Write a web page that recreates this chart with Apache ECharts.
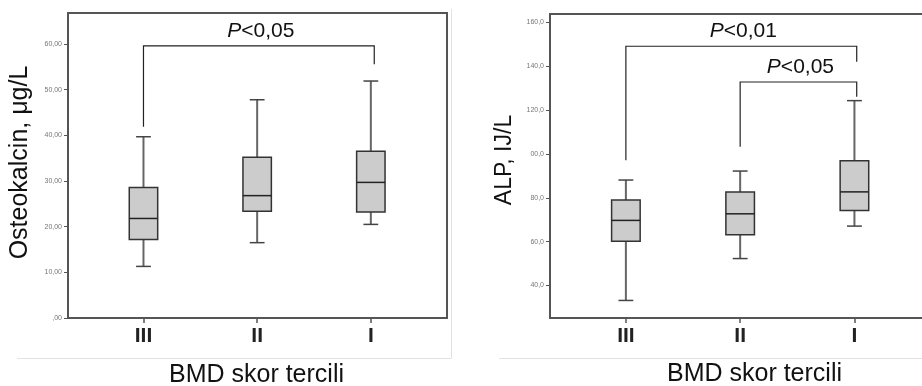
<!DOCTYPE html>
<html>
<head>
<meta charset="utf-8">
<script src="https://cdn.jsdelivr.net/npm/echarts@6/dist/echarts.min.js"></script>
<style>
html,body{margin:0;padding:0;background:#fff;}
#c{width:922px;height:386px;}
</style>
</head>
<body>
<div id="c"></div>
<script>
// ---- data ----
const categories = ['III', 'II', 'I'];
const categoryPos = [1, 2, 3];

const osteoLow  = [11.3, 16.5, 20.5];
const osteoQ1   = [17.2, 23.4, 23.2];
const osteoMed  = [21.8, 26.8, 29.7];
const osteoQ3   = [28.6, 35.2, 36.5];
const osteoHigh = [39.7, 47.8, 51.9];

const alpLow  = [33.2, 52.3, 67.1];
const alpQ1   = [60.2, 63.1, 74.2];
const alpMed  = [69.7, 72.7, 82.7];
const alpQ3   = [79.0, 82.6, 96.9];
const alpHigh = [88.1, 92.2, 124.3];

const osteoTickValues = [0, 10, 20, 30, 40, 50, 60];
const osteoTickLabels = [',00', '10,00', '20,00', '30,00', '40,00', '50,00', '60,00'];
const alpTickValues = [40, 60, 80, 100, 120, 140, 160];
const alpTickLabels = ['40,0', '60,0', '80,0', '00,0', '120,0', '140,0', '160,0'];

// brackets: [fromX, toX, topY, leftEndY, rightEndY]
const osteoBrackets = [[1, 3.03, 59.6, 41.9, 55.6]];
const osteoBracketText = ['<0,05'];
const alpBrackets = [[1, 3.02, 149.1, 97.1, 142.0], [2, 3.02, 132.8, 103.3, 126.1]];
const alpBracketText = ['<0,01', '<0,05'];

// ---- build ----
function boxData(lo, q1, md, q3, hi) {
  return categoryPos.map((x, i) => [x, lo[i], q1[i], md[i], q3[i], hi[i]]);
}
function bracketData(br, txt) {
  return br.map((b, i) => b.concat([txt[i]]));
}

function renderBox(params, api) {
  const x = api.value(0);
  const pLo = api.coord([x, api.value(1)]);
  const pQ1 = api.coord([x, api.value(2)]);
  const pMd = api.coord([x, api.value(3)]);
  const pQ3 = api.coord([x, api.value(4)]);
  const pHi = api.coord([x, api.value(5)]);
  const w = api.size([0.25, 0])[0];
  const cw = api.size([0.13, 0])[0];
  const cx = pMd[0];
  return {
    type: 'group',
    children: [
      {type: 'line', shape: {x1: cx, y1: pHi[1], x2: cx, y2: pQ3[1]}, style: {stroke: '#666', lineWidth: 2}},
      {type: 'line', shape: {x1: cx, y1: pQ1[1], x2: cx, y2: pLo[1]}, style: {stroke: '#666', lineWidth: 2}},
      {type: 'line', shape: {x1: cx - cw / 2, y1: pHi[1], x2: cx + cw / 2, y2: pHi[1]}, style: {stroke: '#444', lineWidth: 1.5}},
      {type: 'line', shape: {x1: cx - cw / 2, y1: pLo[1], x2: cx + cw / 2, y2: pLo[1]}, style: {stroke: '#444', lineWidth: 1.5}},
      {type: 'rect', shape: {x: cx - w / 2, y: pQ3[1], width: w, height: pQ1[1] - pQ3[1]}, style: {fill: '#cccccc', stroke: '#333', lineWidth: 1.5}},
      {type: 'line', shape: {x1: cx - w / 2, y1: pMd[1], x2: cx + w / 2, y2: pMd[1]}, style: {stroke: '#222', lineWidth: 1.5}}
    ]
  };
}

function renderBracket(params, api) {
  const x1 = api.value(0), x2 = api.value(1), yt = api.value(2), yl = api.value(3), yr = api.value(4);
  const a = api.coord([x1, yl]);
  const b = api.coord([x1, yt]);
  const c = api.coord([x2, yt]);
  const d = api.coord([x2, yr]);
  const txt = api.value(5);
  return {
    type: 'group',
    children: [
      {type: 'polyline', shape: {points: [a, b, c, d]}, style: {stroke: '#222', lineWidth: 1.2, fill: null}},
      {type: 'text', x: (b[0] + c[0]) / 2 + 2, y: b[1] - 15,
        style: {
          text: '{i|P}{n|' + txt + '}',
          align: 'center', verticalAlign: 'middle',
          rich: {
            i: {fontFamily: 'Liberation Sans', fontSize: 21, fontStyle: 'italic', fill: '#111'},
            n: {fontFamily: 'Liberation Sans', fontSize: 21, fill: '#111'}
          }
        }}
    ]
  };
}

const yLabelStyle = {fontFamily: 'Liberation Sans', fontSize: 7, color: '#777', margin: 6};

const option = {
  animation: false,
  backgroundColor: '#fff',
  grid: [
    {left: 68, top: 13, width: 379, height: 305, show: true, borderColor: '#555', borderWidth: 2, backgroundColor: 'transparent', outerBoundsMode: 'none', containLabel: false},
    {left: 550, top: 14, width: 381, height: 304, show: true, borderColor: '#555', borderWidth: 2, backgroundColor: 'transparent', outerBoundsMode: 'none', containLabel: false}
  ],
  xAxis: [0, 1].map(g => ({
    type: 'value', gridIndex: g, min: 0.336, max: 3.67,
    splitLine: {show: false},
    axisLine: {show: false},
    axisTick: {show: true, length: 5, lineStyle: {color: '#555', width: 1.5}, customValues: categoryPos},
    axisLabel: {
      customValues: categoryPos,
      formatter: v => categories[categoryPos.indexOf(Math.round(v))] || '',
      fontFamily: '"Liberation Sans Narrow", "Liberation Sans"', fontWeight: 'bold', fontSize: 21, color: '#222', margin: 8
    }
  })),
  yAxis: [
    {
      type: 'value', gridIndex: 0, min: 0, max: 66.8,
      splitLine: {show: false}, axisLine: {show: false},
      axisTick: {show: true, length: 4, lineStyle: {color: '#555'}, customValues: osteoTickValues},
      axisLabel: Object.assign({customValues: osteoTickValues,
        formatter: v => osteoTickLabels[osteoTickValues.indexOf(Math.round(v))] || ''}, yLabelStyle)
    },
    {
      type: 'value', gridIndex: 1, min: 25.2, max: 163.8,
      splitLine: {show: false}, axisLine: {show: false},
      axisTick: {show: true, length: 4, lineStyle: {color: '#555'}, customValues: alpTickValues},
      axisLabel: Object.assign({customValues: alpTickValues,
        formatter: v => alpTickLabels[alpTickValues.indexOf(Math.round(v))] || ''}, yLabelStyle)
    }
  ],
  series: [
    {type: 'custom', xAxisIndex: 0, yAxisIndex: 0, renderItem: renderBox,
      encode: {x: 0, y: [1, 2, 3, 4, 5]}, data: boxData(osteoLow, osteoQ1, osteoMed, osteoQ3, osteoHigh), clip: false},
    {type: 'custom', xAxisIndex: 1, yAxisIndex: 1, renderItem: renderBox,
      encode: {x: 0, y: [1, 2, 3, 4, 5]}, data: boxData(alpLow, alpQ1, alpMed, alpQ3, alpHigh), clip: false},
    {type: 'custom', xAxisIndex: 0, yAxisIndex: 0, renderItem: renderBracket,
      encode: {x: [0, 1], y: [2, 3, 4]}, data: bracketData(osteoBrackets, osteoBracketText), clip: false},
    {type: 'custom', xAxisIndex: 1, yAxisIndex: 1, renderItem: renderBracket,
      encode: {x: [0, 1], y: [2, 3, 4]}, data: bracketData(alpBrackets, alpBracketText), clip: false}
  ],
  graphic: [
    {type: 'line', shape: {x1: 17, y1: 358.5, x2: 451, y2: 358.5}, style: {stroke: '#e2e2e2', lineWidth: 1}, silent: true},
    {type: 'line', shape: {x1: 451.5, y1: 9, x2: 451.5, y2: 358.5}, style: {stroke: '#e2e2e2', lineWidth: 1}, silent: true},
    {type: 'line', shape: {x1: 499, y1: 358.5, x2: 922, y2: 358.5}, style: {stroke: '#e2e2e2', lineWidth: 1}, silent: true},
    {type: 'text', x: 20, y: 162.5, rotation: Math.PI / 2,
      style: {text: 'Osteokalcin, μg/L', fontFamily: 'Liberation Sans', fontSize: 25, fill: '#111', align: 'center', verticalAlign: 'middle'}},
    {type: 'text', x: 505, y: 160, rotation: Math.PI / 2,
      style: {text: 'ALP, IJ/L', fontFamily: 'Liberation Sans', fontSize: 23, fill: '#111', align: 'center', verticalAlign: 'middle'}},
    {type: 'text', x: 256.5, y: 375,
      style: {text: 'BMD skor tercili', fontFamily: 'Liberation Sans', fontSize: 25, fill: '#111', align: 'center', verticalAlign: 'middle'}},
    {type: 'text', x: 754.5, y: 374,
      style: {text: 'BMD skor tercili', fontFamily: 'Liberation Sans', fontSize: 25, fill: '#111', align: 'center', verticalAlign: 'middle'}}
  ]
};

const chart = echarts.init(document.getElementById('c'), null, {renderer: 'canvas'});
chart.setOption(option);
</script>
</body>
</html>
